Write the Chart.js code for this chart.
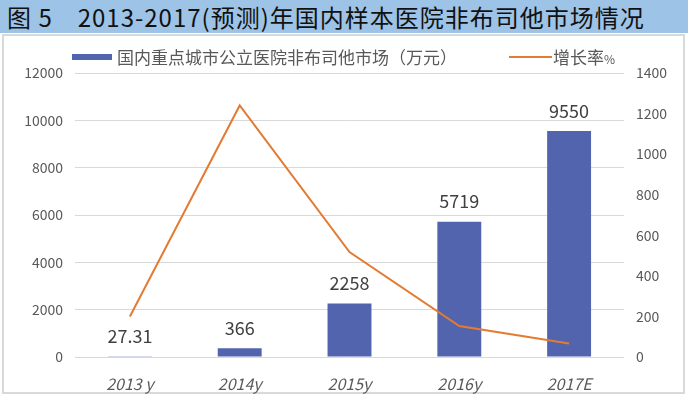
<!DOCTYPE html>
<html>
<head>
<meta charset="utf-8">
<script src="https://cdn.jsdelivr.net/npm/chart.js@4"></script>
<style>
  body { margin: 0; width: 688px; height: 398px; overflow: hidden; background: #fff; position: relative; }
  #title {
    position: absolute; left: 0; top: 0; width: 688px; height: 33px;
    background: #9dc3e6; color: #111;
    font: 400 24px "Noto Sans CJK SC", sans-serif; line-height: 33px; letter-spacing: 1px;
    padding-left: 7px; box-sizing: border-box; white-space: nowrap;
  }
  #frame {
    position: absolute; left: 2px; top: 34px; width: 683px; height: 360px;
    border: 2px solid #d9d9d9; box-sizing: border-box;
  }
  #chart { position: absolute; left: 0; top: 0; }
  .lg { position: absolute; font: 17px "Noto Sans CJK SC", sans-serif; color: #595959; line-height: 20px; white-space: nowrap; }
  .sw { position: absolute; }
</style>
</head>
<body>
<div id="title">图 5　2013-2017(预测)年国内样本医院非布司他市场情况</div>
<div id="frame"></div>
<canvas id="chart" width="688" height="398"></canvas>
<div class="sw" style="left:72px;top:54px;width:40px;height:6px;background:#5264ae"></div>
<div class="lg" style="left:117px;top:47px">国内重点城市公立医院非布司他市场（万元）</div>
<div class="sw" style="left:509px;top:56px;width:43px;height:2px;background:#e37b33"></div>
<div class="lg" style="left:553px;top:47px">增长率<span style="font-size:12px">%</span></div>
<script>
/* data */
const years = ['2013 y', '2014y', '2015y', '2016y', '2017E'];
const market = [27.31, 366, 2258, 5719, 9550];   // 万元, left axis
const growth = [200, 1240, 517, 153, 67];         // %, right axis

const barColor = '#5264ae';
const lineColor = '#e37b33';
const tickColor = '#595959';
const fontFam = '"Noto Sans CJK SC", sans-serif';

/* values written above the bars */
const barLabels = {
  id: 'barLabels',
  afterDatasetsDraw(chart) {
    const ctx = chart.ctx;
    const meta = chart.getDatasetMeta(0);
    ctx.save();
    ctx.font = '18px ' + fontFam;
    ctx.fillStyle = '#404040';
    ctx.textAlign = 'center';
    ctx.textBaseline = 'middle';
    meta.data.forEach((bar, i) => {
      ctx.fillText(String(market[i]), bar.x, bar.y - 20);
    });
    ctx.restore();
  }
};

new Chart(document.getElementById('chart'), {
  data: {
    labels: years,
    datasets: [
      {
        type: 'bar',
        label: '国内重点城市公立医院非布司他市场（万元）',
        data: market,
        backgroundColor: barColor,
        yAxisID: 'y',
        barPercentage: 0.4,
        categoryPercentage: 1,
        order: 1
      },
      {
        type: 'line',
        label: '增长率%',
        data: growth,
        borderColor: lineColor,
        borderWidth: 2,
        pointRadius: 0,
        tension: 0,
        yAxisID: 'y2',
        order: 0
      }
    ]
  },
  options: {
    responsive: false,
    animation: false,
    layout: { padding: { top: 73, left: 0, right: 0, bottom: 0 } },
    plugins: { legend: { display: false }, tooltip: { enabled: false } },
    scales: {
      x: {
        grid: { display: false },
        border: { display: false },
        ticks: { color: tickColor, padding: 9, font: { family: fontFam, size: 16, style: 'italic' } },
        afterFit(s) { s.height = 41; }
      },
      y: {
        position: 'left',
        min: 0, max: 12000,
        ticks: { stepSize: 2000, color: tickColor, padding: 12, font: { family: fontFam, size: 14 }, callback: v => String(v) },
        grid: { color: '#d9d9d9', drawTicks: false },
        border: { display: false },
        afterFit(s) { s.width = 75; }
      },
      y2: {
        position: 'right',
        min: 0, max: 1400,
        ticks: { stepSize: 200, color: tickColor, padding: 12, font: { family: fontFam, size: 14 }, callback: v => String(v) },
        grid: { display: false, drawTicks: false },
        border: { display: false },
        afterFit(s) { s.width = 64; }
      }
    }
  },
  plugins: [barLabels]
});
</script>
</body>
</html>
